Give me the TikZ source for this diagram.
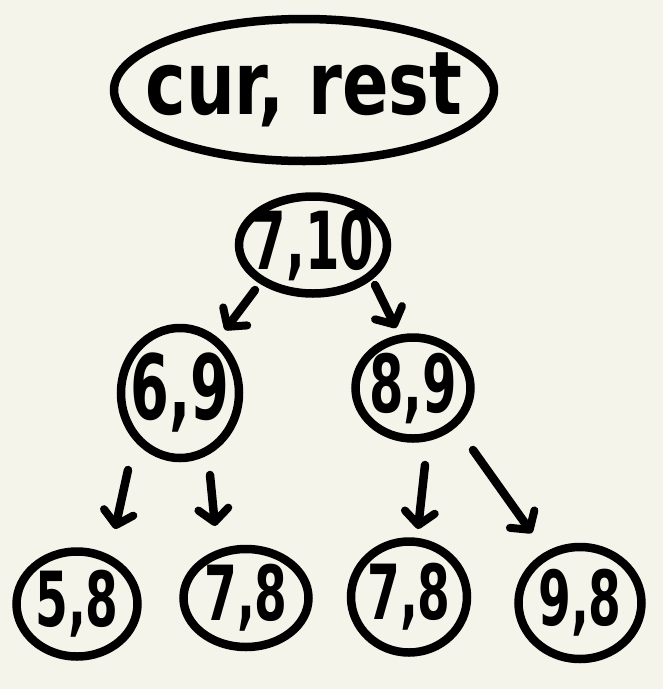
\documentclass[tikz,border=0pt]{standalone}
\usepackage{fontspec}
\setmainfont{DejaVu Sans}
\usetikzlibrary{shapes.geometric,arrows.meta,calc}
\definecolor{paper}{HTML}{F5F4EB}
\newcommand{\hw}[2]{\scalebox{0.62}[1]{\fontsize{#1}{#1}\selectfont\bfseries #2}}
\tikzset{
  blob/.style={ellipse, draw=black, line width=8.5pt, inner sep=0pt},
  arr/.style={line width=8.5pt, line cap=round, -{Straight Barb[length=13pt,width=30pt,line width=8pt,round]}},
}
\begin{document}
\begin{tikzpicture}[x=1pt,y=-1pt]
\fill[paper] (0,0) rectangle (663,689);
\useasboundingbox (0,0) rectangle (663,689);

\node[blob, minimum width=380pt, minimum height=142pt,
  label={center:\scalebox{0.78}[1]{\fontsize{88}{88}\selectfont\bfseries cur, rest}}] (top) at (304,90) {};

\node[blob, minimum width=148pt, minimum height=97pt,
  label={center:\hw{80}{7,10}}] (n710) at (313,245) {};
\node[blob, minimum width=118pt, minimum height=130pt,
  label={center:\hw{90}{6,9}}] (n69) at (180,393) {};
\node[blob, minimum width=115pt, minimum height=101pt,
  label={center:\hw{80}{8,9}}] (n89) at (413,388) {};

\node[blob, minimum width=121pt, minimum height=105pt,
  label={center:\hw{76}{5,8}}] (n58) at (77,604) {};
\node[blob, minimum width=125pt, minimum height=98pt,
  label={center:\hw{76}{7,8}}] (n78a) at (246,598) {};
\node[blob, minimum width=116pt, minimum height=111pt,
  label={center:\hw{76}{7,8}}] (n78b) at (409,597) {};
\node[blob, minimum width=123pt, minimum height=112pt,
  label={center:\hw{76}{9,8}}] (n98) at (580,603) {};

\draw[arr] ($(n710)+(-58,45)$) -- ($(n69)+(45,-63)$);
\draw[arr] ($(n710)+(62,40)$) -- ($(n89)+(-17,-60)$);
\draw[arr] ($(n69)+(-52,77)$) -- ($(n58)+(38,-75)$);
\draw[arr] ($(n69)+(30,82)$) -- ($(n78a)+(-31,-72)$);
\draw[arr] ($(n89)+(12,77)$) -- ($(n78b)+(9,-68)$);
\draw[arr] ($(n89)+(60,62)$) -- ($(n98)+(-48,-70)$);
\end{tikzpicture}
\end{document}
